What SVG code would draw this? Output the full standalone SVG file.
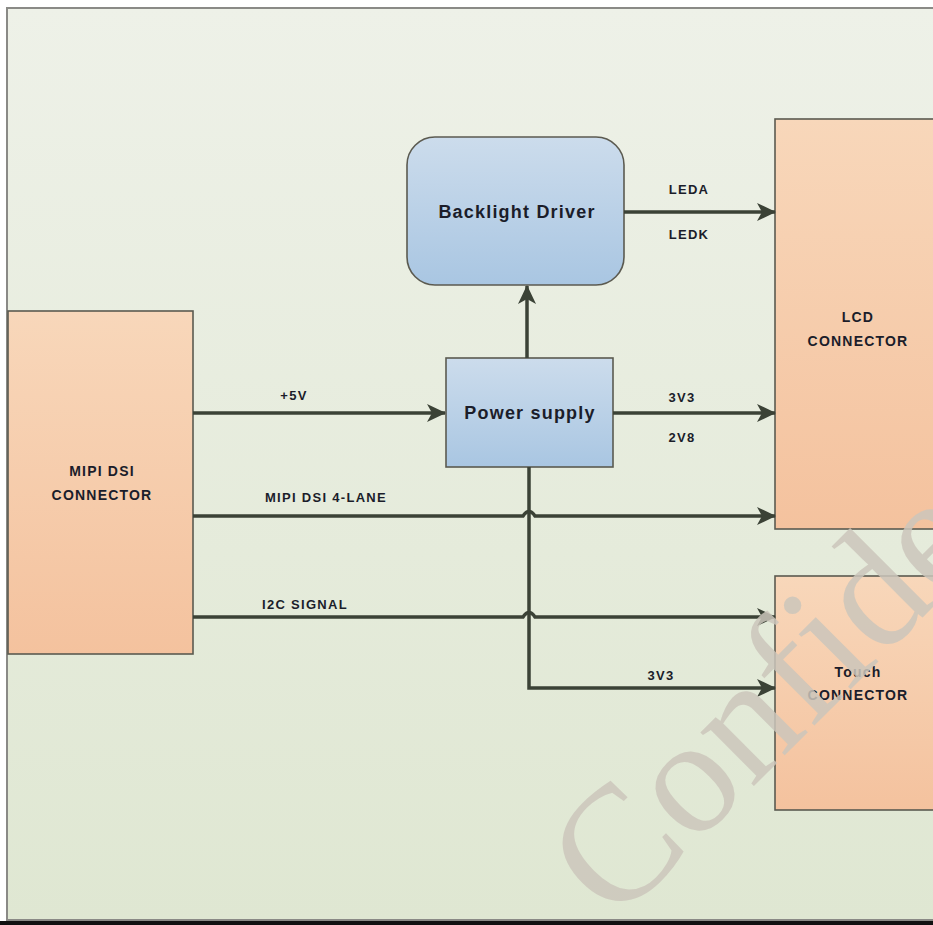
<svg xmlns="http://www.w3.org/2000/svg" width="933" height="925" viewBox="0 0 933 925">
<defs>
<linearGradient id="bg" x1="0" y1="0" x2="0" y2="1"><stop offset="0" stop-color="#eef1e8"/><stop offset="1" stop-color="#dfe7d2"/></linearGradient>
<linearGradient id="peach" x1="0" y1="0" x2="0" y2="1"><stop offset="0" stop-color="#f8d7ba"/><stop offset="1" stop-color="#f4c29e"/></linearGradient>
<linearGradient id="blue" x1="0" y1="0" x2="0" y2="1"><stop offset="0" stop-color="#ccdcec"/><stop offset="1" stop-color="#a9c6e2"/></linearGradient>
<marker id="arr" markerUnits="userSpaceOnUse" markerWidth="20" markerHeight="20" viewBox="0 0 20 20" refX="18" refY="10" orient="auto"><path d="M0,1 L19,10 L0,19 L5,10 Z" fill="#3b4236"/></marker>
<style>
.box{stroke:#5b5a50;stroke-width:1.6}
.peach{fill:url(#peach)}
.blue{fill:url(#blue)}
.t{font-family:"Liberation Sans",Arial,sans-serif;font-weight:bold;fill:#1b1d2a;text-anchor:middle}
.s{font-size:13px;letter-spacing:1.3px}
.m{font-size:14px;letter-spacing:1.2px}
.b{font-size:18px;letter-spacing:1.2px}
.c{fill:none;stroke:#3b4236;stroke-width:3.5}
.wm{font-family:"Liberation Serif","Times New Roman",serif;font-size:165px;fill:#cbc6bb;fill-opacity:0.85}
</style>
</defs>
<rect x="0" y="0" width="933" height="925" fill="#ffffff"/>
<rect x="7" y="8" width="930" height="912" fill="url(#bg)" stroke="#8a8a86" stroke-width="2"/>
<rect x="0" y="921" width="933" height="4" fill="#111111"/>

<g id="mipi"><rect class="box peach" x="8" y="311" width="185" height="343"/><text class="t m" x="102" y="476">MIPI DSI</text><text class="t m" x="102" y="500">CONNECTOR</text></g>
<g id="lcd"><rect class="box peach" x="775" y="119" width="170" height="410"/><text class="t m" x="858" y="322">LCD</text><text class="t m" x="858" y="346">CONNECTOR</text></g>
<g id="touch"><rect class="box peach" x="775" y="576" width="170" height="234"/><text class="t m" x="858" y="677">Touch</text><text class="t m" x="858" y="700">CONNECTOR</text></g>
<g id="backlight"><rect class="box blue" x="407" y="137" width="217" height="148" rx="28"/><text class="t b" x="517" y="218">Backlight Driver</text></g>
<g id="power"><rect class="box blue" x="446" y="358" width="167" height="109"/><text class="t b" x="530" y="419">Power supply</text></g>

<g id="connectors">
<path class="c" d="M193 413 H445" marker-end="url(#arr)"/>
<path class="c" d="M527 358 V286" marker-end="url(#arr)"/>
<path class="c" d="M624 212 H775" marker-end="url(#arr)"/>
<path class="c" d="M613 413 H775" marker-end="url(#arr)"/>
<path class="c" d="M193 516 H523 Q529 507 535 516 H775" marker-end="url(#arr)"/>
<path class="c" d="M193 617 H523 Q529 608 535 617 H775" marker-end="url(#arr)"/>
<path class="c" d="M529 467 V688 H775" marker-end="url(#arr)"/>
<text class="t s" x="294" y="400">+5V</text>
<text class="t s" x="326" y="502">MIPI DSI 4-LANE</text>
<text class="t s" x="305" y="609">I2C SIGNAL</text>
<text class="t s" x="689" y="194">LEDA</text>
<text class="t s" x="689" y="239">LEDK</text>
<text class="t s" x="682" y="402">3V3</text>
<text class="t s" x="682" y="442">2V8</text>
<text class="t s" x="661" y="680">3V3</text>
</g>

<text class="wm" x="615" y="925" transform="rotate(-45 615 925)">Confidential</text>
</svg>
